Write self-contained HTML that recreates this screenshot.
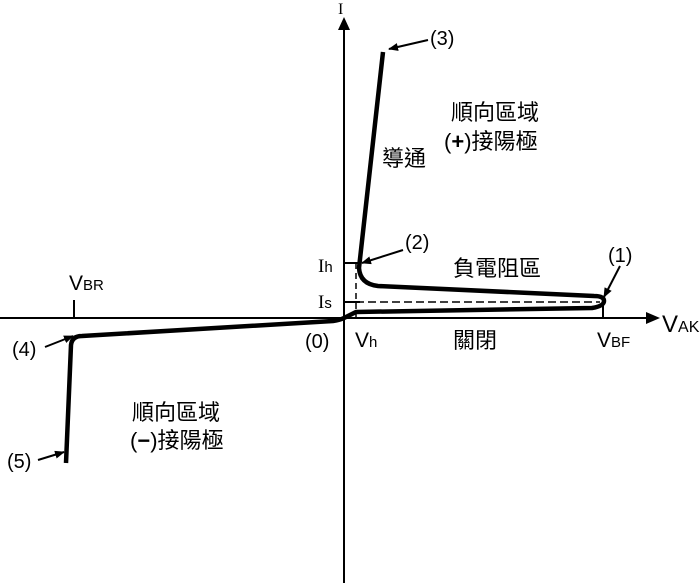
<!DOCTYPE html>
<html><head><meta charset="utf-8"><style>
html,body{margin:0;padding:0;background:#fff;}
svg text{font-family:"Liberation Sans","Noto Sans CJK TC",sans-serif;fill:#000;}
</style></head><body>
<svg width="700" height="583" viewBox="0 0 700 583" xmlns="http://www.w3.org/2000/svg">
<defs>
<marker id="ah" markerWidth="10" markerHeight="8" refX="9" refY="4" orient="auto" markerUnits="userSpaceOnUse"><path d="M0,0 L10,4 L0,8 z" fill="#000"/></marker>
</defs>
<line x1="0" y1="318" x2="648" y2="318" stroke="#000" stroke-width="2"/>
<path d="M660,318 L646,312 L646,324 z" fill="#000"/>
<line x1="344" y1="28" x2="344" y2="583" stroke="#000" stroke-width="2"/>
<path d="M344,17 L338,30 L350,30 z" fill="#000"/>
<text x="338" y="14" font-size="16" style="font-family:'Liberation Serif',serif">I</text>
<line x1="74" y1="300" x2="74" y2="318" stroke="#000" stroke-width="2"/>
<line x1="603" y1="298" x2="603" y2="318" stroke="#000" stroke-width="2"/>
<line x1="344" y1="263" x2="360" y2="263" stroke="#000" stroke-width="2"/>
<line x1="344" y1="302" x2="360" y2="302" stroke="#000" stroke-width="2"/>
<line x1="356" y1="263" x2="356" y2="318" stroke="#000" stroke-width="1.5" stroke-dasharray="6,4"/>
<line x1="356" y1="302" x2="600" y2="302" stroke="#000" stroke-width="1.5" stroke-dasharray="8,4"/>
<path d="M66,463 L71,345 Q72,336 82,336 L333,321 Q340,320 344,318 L356,312 L592,308 Q604,306 604,301 Q604,296 594,296 L378,286 Q360,284 359,268 L383,52" fill="none" stroke="#000" stroke-width="4.5" stroke-linejoin="round"/>
<line x1="428" y1="40" x2="389" y2="49" stroke="#000" stroke-width="2" marker-end="url(#ah)"/>
<line x1="403" y1="250" x2="362" y2="263" stroke="#000" stroke-width="2" marker-end="url(#ah)"/>
<line x1="620" y1="266" x2="604" y2="297" stroke="#000" stroke-width="2" marker-end="url(#ah)"/>
<line x1="45" y1="347" x2="73" y2="336" stroke="#000" stroke-width="2" marker-end="url(#ah)"/>
<line x1="38" y1="460" x2="64" y2="452" stroke="#000" stroke-width="2" marker-end="url(#ah)"/>
<text x="430" y="45" font-size="20">(3)</text>
<text x="405" y="249" font-size="20">(2)</text>
<text x="608" y="262" font-size="20">(1)</text>
<text x="12" y="356" font-size="20">(4)</text>
<text x="7" y="468" font-size="20">(5)</text>
<text x="305" y="348" font-size="20">(0)</text>
<text x="451" y="120" font-size="22">順向區域</text>
<text x="444" y="149" font-size="22">(<tspan font-weight="bold">+</tspan>)接陽極</text>
<text x="382" y="166" font-size="22">導通</text>
<text x="453" y="276" font-size="22">負電阻區</text>
<text x="453" y="348" font-size="22">關閉</text>
<text x="132" y="420" font-size="22">順向區域</text>
<text x="130" y="448" font-size="22">(<tspan font-weight="bold">−</tspan>)接陽極</text>
<text x="69" y="290" font-size="21">V<tspan font-size="15">BR</tspan></text>
<text x="355" y="347" font-size="21">V<tspan font-size="15">h</tspan></text>
<text x="597" y="347" font-size="21">V<tspan font-size="15">BF</tspan></text>
<text x="662" y="332" font-size="24">V<tspan font-size="16">AK</tspan></text>
<text x="318" y="272" font-size="19" style="font-family:'Liberation Serif',serif">I<tspan font-size="15" style="font-family:'Liberation Sans',sans-serif">h</tspan></text>
<text x="318" y="308" font-size="19" style="font-family:'Liberation Serif',serif">I<tspan font-size="15" style="font-family:'Liberation Sans',sans-serif">s</tspan></text>
</svg>
</body></html>
